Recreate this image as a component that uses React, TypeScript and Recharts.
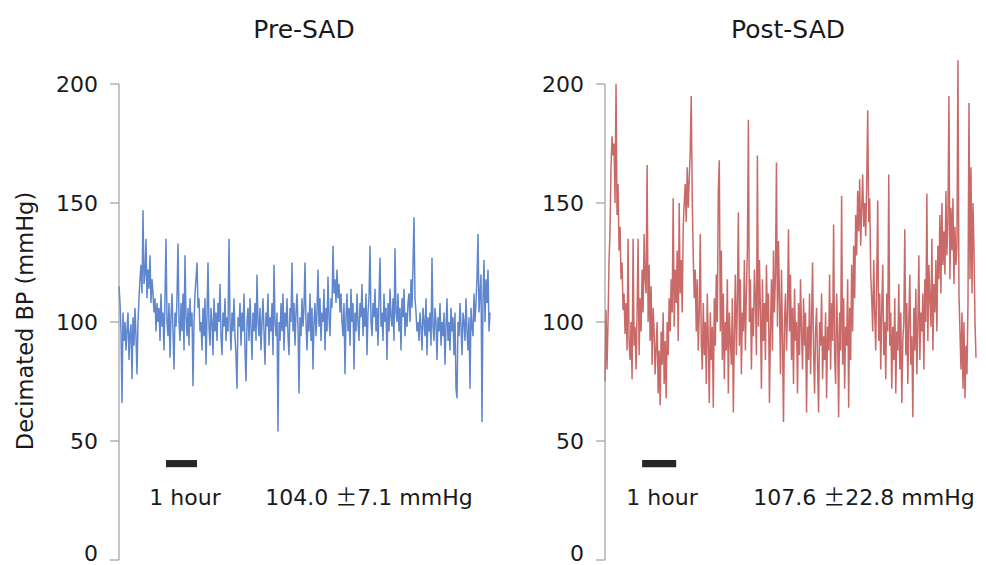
import React from "react";
import { LineChart, Line, XAxis, YAxis, ReferenceArea } from "recharts";

// decimated BP (mmHg), roughly one sample per pixel column
const preSad = [
  115, 108, 96, 66, 104, 92, 100, 88, 97, 104, 84, 95, 99, 76, 102, 90, 106, 94, 78, 100,
  110, 118, 124, 112, 147, 116, 120, 135, 110, 122, 114, 128, 108, 118, 112, 104, 110, 96, 108, 100,
  106, 92, 112, 98, 104, 88, 110, 135, 100, 94, 108, 85, 102, 112, 96, 80, 104, 98, 110, 133,
  100, 92, 108, 96, 112, 88, 128, 102, 94, 106, 90, 110, 98, 104, 73, 100, 112, 118, 125, 106,
  110, 96, 100, 88, 106, 94, 110, 82, 102, 125, 98, 90, 106, 100, 86, 110, 96, 104, 92, 108,
  100, 116, 94, 86, 104, 98, 110, 92, 102, 96, 135, 100, 88, 104, 96, 110, 94, 86, 72, 102,
  98, 108, 90, 104, 96, 112, 88, 75, 100, 106, 92, 110, 98, 84, 104, 96, 108, 92, 120, 100,
  94, 106, 88, 100, 110, 96, 82, 104, 98, 112, 90, 102, 96, 108, 86, 124, 100, 94, 104, 54,
  100, 92, 108, 96, 112, 88, 104, 98, 110, 94, 86, 106, 100, 125, 96, 108, 90, 104, 112, 98,
  70, 102, 94, 110, 98, 106, 125, 100, 88, 104, 96, 112, 92, 106, 80, 100, 108, 94, 104, 122,
  98, 110, 92, 104, 100, 114, 88, 106, 96, 119, 102, 94, 110, 106, 132, 112, 118, 108, 122, 110,
  116, 104, 112, 100, 94, 108, 78, 102, 112, 96, 106, 90, 114, 100, 108, 80, 104, 96, 112, 100,
  92, 108, 102, 116, 94, 106, 98, 112, 86, 104, 110, 132, 100, 94, 108, 102, 114, 96, 106, 90,
  110, 127, 98, 104, 92, 112, 100, 106, 84, 108, 96, 114, 102, 98, 110, 92, 131, 104, 100, 112,
  96, 106, 88, 110, 102, 114, 94, 104, 98, 108, 112, 100, 118, 106, 124, 144, 110, 104, 96, 100,
  92, 104, 98, 88, 106, 100, 94, 110, 86, 102, 96, 104, 90, 127, 98, 92, 106, 100, 84, 102,
  96, 108, 90, 100, 94, 104, 82, 98, 110, 92, 100, 88, 106, 96, 102, 86, 104, 72, 68, 100,
  94, 108, 98, 86, 104, 100, 92, 110, 96, 88, 102, 72, 106, 98, 94, 112, 100, 108, 118, 137,
  104, 112, 120, 58, 110, 126, 100, 118, 108, 122, 96, 104,
];

const postSad = [
  75, 105, 80, 100, 125, 138, 165, 178, 170, 175, 150, 200, 145, 158, 130, 140, 118, 125, 105, 112,
  95, 108, 88, 135, 92, 84, 100, 76, 135, 90, 98, 80, 104, 135, 86, 110, 96, 122, 104, 137,
  118, 112, 166, 100, 124, 92, 115, 82, 106, 96, 78, 90, 100, 70, 88, 65, 96, 82, 104, 74,
  92, 68, 100, 86, 110, 96, 118, 104, 152, 98, 122, 108, 130, 92, 150, 112, 126, 104, 140, 150,
  158, 142, 165, 148, 160, 172, 195, 152, 128, 110, 122, 96, 118, 88, 104, 137, 92, 80, 108, 86,
  100, 74, 112, 92, 66, 104, 84, 98, 64, 110, 90, 120, 100, 155, 168, 96, 130, 84, 112, 76,
  100, 88, 118, 70, 104, 92, 82, 110, 62, 96, 120, 86, 108, 146, 90, 118, 78, 104, 96, 126,
  88, 112, 130, 185, 100, 118, 80, 106, 94, 122, 110, 86, 170, 98, 126, 104, 72, 118, 92, 108,
  84, 124, 100, 112, 66, 96, 118, 88, 130, 104, 120, 167, 98, 134, 110, 78, 122, 94, 58, 100,
  112, 88, 104, 139, 96, 120, 84, 106, 74, 114, 92, 100, 70, 108, 86, 118, 96, 80, 110, 90,
  104, 62, 98, 84, 112, 78, 100, 125, 88, 70, 96, 106, 82, 62, 100, 90, 112, 76, 94, 84,
  104, 68, 98, 88, 120, 80, 108, 92, 141, 86, 74, 112, 96, 60, 104, 88, 153, 82, 110, 72,
  98, 90, 118, 64, 106, 84, 124, 96, 132, 110, 145, 128, 155, 138, 160, 132, 148, 162, 140, 150,
  136, 158, 189, 142, 152, 120, 110, 96, 126, 104, 88, 118, 151, 92, 112, 80, 106, 124, 86, 100,
  76, 112, 96, 162, 90, 104, 72, 98, 84, 110, 70, 96, 88, 116, 80, 104, 66, 92, 100, 139,
  86, 108, 74, 100, 120, 82, 94, 60, 106, 88, 114, 78, 98, 128, 84, 104, 96, 112, 80, 118,
  100, 154, 92, 124, 110, 98, 135, 88, 116, 104, 126, 96, 132, 118, 145, 112, 150, 124, 138, 120,
  155, 128, 142, 195, 118, 148, 130, 152, 116, 140, 124, 132, 210, 112, 96, 80, 104, 72, 100, 68,
  90, 78, 108, 192, 118, 165, 112, 150, 130, 100, 85,
];

const yTicks = [0, 50, 100, 150, 200];
// 1-hour scale bar, in sample index units
const preHourBar = [47, 78];
const postHourBar = [37, 71];

const preData = preSad.map((v, i) => ({ i, bp: v }));
const postData = postSad.map((v, i) => ({ i, bp: v }));

const FONT = "'DejaVu Sans', sans-serif";

function YTick({ x, y, payload }: any) {
  // bottom label sits a little above its tick in the original
  const dy = payload.value === 0 ? -7 : 0;
  return (
    <text x={x} y={y + dy} textAnchor="end" dominantBaseline="central" fontSize={22} fill="#1a1a1a" fontFamily={FONT}>
      {payload.value}
    </text>
  );
}

function Panel({ data, color, bar }: { data: { i: number; bp: number }[]; color: string; bar: number[] }) {
  return (
    <LineChart width={500} height={565} data={data} margin={{ top: 84, right: 10, bottom: 5, left: 0 }}>
      <XAxis dataKey="i" type="number" domain={[0, data.length - 1]} hide />
      <YAxis
        domain={[0, 200]}
        allowDataOverflow
        ticks={yTicks}
        width={119}
        tickSize={9}
        tickMargin={12}
        stroke="#8c8c8c"
        tick={<YTick />}
        interval={0}
      />
      <ReferenceArea x1={bar[0]} x2={bar[1]} y1={39} y2={42} fill="#262626" fillOpacity={1} stroke="none" ifOverflow="visible" />
      <Line
        type="linear"
        dataKey="bp"
        stroke={color}
        strokeWidth={1.5}
        strokeOpacity={0.85}
        dot={false}
        isAnimationActive={false}
      />
    </LineChart>
  );
}

export default function App() {
  return (
    <div style={{ position: "absolute", left: 0, top: 0, width: 986, height: 565, background: "#fff" }}>
      {/* let the tallest post-SAD spike run past the 200 line as in the original */}
      <style>{`.recharts-wrapper [clip-path] { clip-path: none !important; }`}</style>
      <div style={{ position: "absolute", left: 0, top: 0 }}>
        <Panel data={preData} color="#4472C4" bar={preHourBar} />
      </div>
      <div style={{ position: "absolute", left: 486, top: 0 }}>
        <Panel data={postData} color="#C0504D" bar={postHourBar} />
      </div>
      <svg width={986} height={565} style={{ position: "absolute", left: 0, top: 0, pointerEvents: "none" }}>
        <g fontFamily={FONT} fill="#1a1a1a">
          <text x={304} y={38} fontSize={25} textAnchor="middle">Pre-SAD</text>
          <text x={788} y={38} fontSize={25} textAnchor="middle">Post-SAD</text>
          <text x={25} y={321} fontSize={22.5} textAnchor="middle" dominantBaseline="central" transform="rotate(-90, 25, 321)">
            Decimated BP (mmHg)
          </text>
          <text x={185} y={505} fontSize={22} textAnchor="middle">1 hour</text>
          <text x={369} y={505} fontSize={22} textAnchor="middle">
            104.0 <tspan fontFamily="'Noto Sans CJK JP'">±</tspan>7.1 mmHg
          </text>
          <text x={662} y={505} fontSize={22} textAnchor="middle">1 hour</text>
          <text x={864} y={505} fontSize={22} textAnchor="middle">
            107.6 <tspan fontFamily="'Noto Sans CJK JP'">±</tspan>22.8 mmHg
          </text>
        </g>
      </svg>
    </div>
  );
}
